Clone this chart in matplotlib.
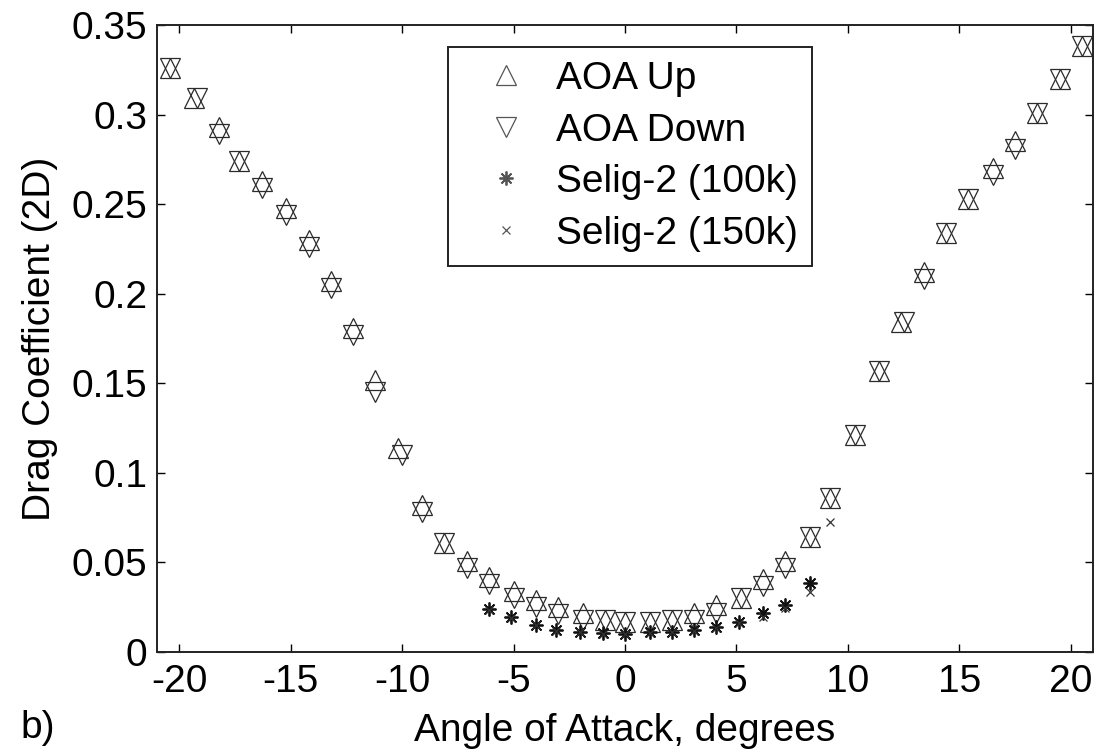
import matplotlib
matplotlib.use("Agg")
import matplotlib.pyplot as plt

plt.rcParams["font.family"] = ["Liberation Sans", "DejaVu Sans"]

# Angle-of-attack sweep, increasing angle
alpha_up = [-20.4, -19.35, -18.2, -17.3, -16.3, -15.2, -14.2, -13.2, -12.2, -11.2,
            -10.2, -9.1, -8.1, -7.1, -6.1, -5.0, -4.0, -3.0, -1.9, -0.9,
            0.0, 1.1, 2.1, 3.1, 4.1, 5.2, 6.2, 7.2, 8.3, 9.2,
            10.3, 11.4, 12.4, 13.4, 14.4, 15.4, 16.5, 17.5, 18.5, 19.5, 20.5]
cd_up = [0.326, 0.309, 0.293, 0.274, 0.263, 0.248, 0.230, 0.207, 0.181, 0.152,
         0.114, 0.082, 0.061, 0.051, 0.042, 0.034, 0.029, 0.025, 0.022, 0.018,
         0.017, 0.017, 0.018, 0.022, 0.026, 0.030, 0.041, 0.051, 0.064, 0.086,
         0.121, 0.157, 0.184, 0.212, 0.234, 0.253, 0.270, 0.285, 0.301, 0.320, 0.338]

# Angle-of-attack sweep, decreasing angle
alpha_down = [-20.4, -19.2, -18.2, -17.3, -16.3, -15.2, -14.2, -13.2, -12.2, -11.2,
              -10.0, -9.1, -8.1, -7.1, -6.1, -5.0, -4.0, -3.0, -1.9, -0.9,
              0.0, 1.1, 2.1, 3.1, 4.1, 5.2, 6.2, 7.2, 8.3, 9.2,
              10.3, 11.4, 12.5, 13.4, 14.4, 15.4, 16.5, 17.5, 18.5, 19.5, 20.5]
cd_down = [0.326, 0.309, 0.289, 0.274, 0.259, 0.244, 0.226, 0.203, 0.177, 0.145,
           0.110, 0.078, 0.061, 0.047, 0.038, 0.030, 0.025, 0.021, 0.018, 0.018,
           0.017, 0.017, 0.018, 0.018, 0.022, 0.030, 0.037, 0.047, 0.064, 0.086,
           0.121, 0.157, 0.184, 0.208, 0.234, 0.253, 0.266, 0.281, 0.301, 0.320, 0.338]

# Selig reference data
alpha_selig_100k = [-6.1, -5.1, -4.0, -3.1, -2.0, -1.0, 0.0, 1.1, 2.1, 3.1,
                    4.1, 5.1, 6.2, 7.2, 8.3]
cd_selig_100k = [0.0240, 0.0195, 0.0151, 0.0123, 0.0112, 0.0106, 0.0100, 0.0112,
                 0.0112, 0.0123, 0.0140, 0.0167, 0.0218, 0.0262, 0.0385]

alpha_selig_150k = [-6.1, -5.1, -4.0, -3.1, -2.0, -1.0, 0.0, 1.1, 2.1, 3.1,
                    4.1, 5.1, 6.2, 7.2, 8.3, 9.2]
cd_selig_150k = [0.0235, 0.0190, 0.0148, 0.0120, 0.0110, 0.0102, 0.0098, 0.0108,
                 0.0110, 0.0120, 0.0136, 0.0160, 0.0195, 0.0245, 0.0335, 0.0725]

x_ticks = [-20, -15, -10, -5, 0, 5, 10, 15, 20]
y_ticks = [0, 0.05, 0.1, 0.15, 0.2, 0.25, 0.3, 0.35]
y_ticklabels = ["0", "0.05", "0.1", "0.15", "0.2", "0.25", "0.3", "0.35"]

FS = 28
mk_color = "#2b2b2b"

fig = plt.figure(figsize=(11.04, 7.51), dpi=100)
ax = fig.add_axes([157 / 1104, 99 / 751, 936 / 1104, 627 / 751])

ax.plot(alpha_up, cd_up, linestyle="none", marker="^", markersize=15,
        markerfacecolor="none", markeredgecolor=mk_color, markeredgewidth=0.9,
        label="AOA Up")
ax.plot(alpha_down, cd_down, linestyle="none", marker="v", markersize=15,
        markerfacecolor="none", markeredgecolor=mk_color, markeredgewidth=0.9,
        label="AOA Down")
ax.plot(alpha_selig_100k, cd_selig_100k, linestyle="none", marker=(8, 2, 0),
        markersize=10, markeredgecolor="#111111", markeredgewidth=1.3,
        label="Selig-2 (100k)")
ax.plot(alpha_selig_150k, cd_selig_150k, linestyle="none", marker="x",
        markersize=6, markeredgecolor="#333333", markeredgewidth=0.9,
        label="Selig-2 (150k)")

ax.set_xlim(-21, 21)
ax.set_ylim(0, 0.35)
ax.set_xticks(x_ticks)
ax.set_xticklabels([str(t) for t in x_ticks])
ax.set_yticks(y_ticks)
ax.set_yticklabels(y_ticklabels)

ax.tick_params(axis="both", direction="in", length=6, width=1.0,
               top=True, right=True, labelsize=FS, colors="black")
ax.tick_params(axis="x", pad=9)
ax.tick_params(axis="y", pad=7)
for sp in ax.spines.values():
    sp.set_linewidth(1.4)
    sp.set_color("#222222")

ax.set_xlabel("Angle of Attack, degrees", fontsize=FS, labelpad=9)
ax.set_ylabel("Drag Coefficient (2D)", fontsize=FS, labelpad=10)
fig.text(20 / 1104, 1 - 728 / 751, "b)", fontsize=FS, va="center", ha="left")

leg = ax.legend(loc="upper left", bbox_to_anchor=(0.311, 0.965), fontsize=FS,
                frameon=True, fancybox=False, framealpha=1, edgecolor="#222222",
                borderpad=0.36, handlelength=2.26, handletextpad=0.15,
                labelspacing=0.4, borderaxespad=0)
leg.get_frame().set_linewidth(1.4)
for h in leg.legend_handles:
    h.set_markeredgecolor("#555555")

fig.savefig("out.png", dpi=100)
